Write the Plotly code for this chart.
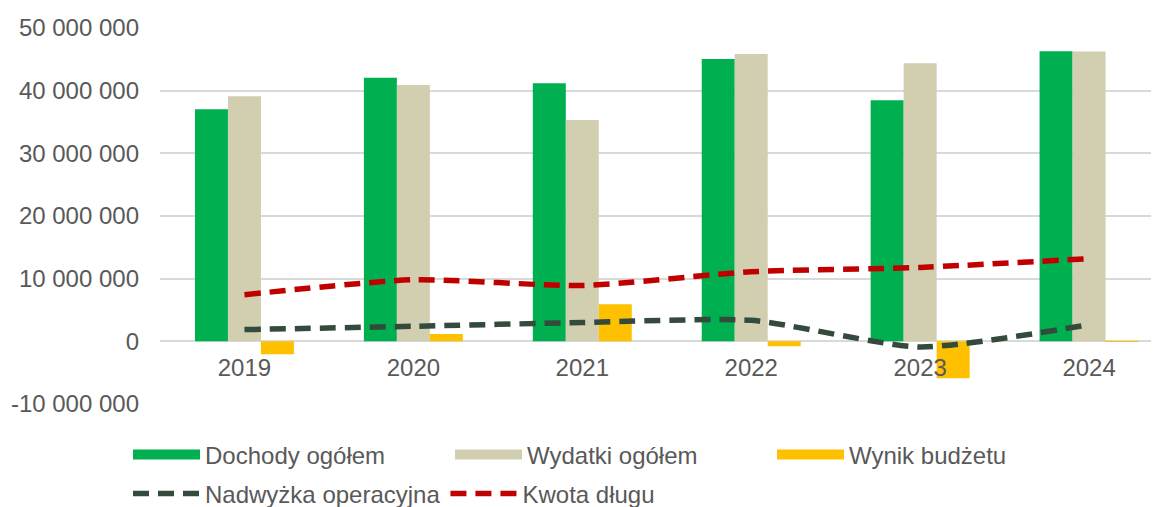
import plotly.graph_objects as go

years = ["2019", "2020", "2021", "2022", "2023", "2024"]
dochody = [37_040_000, 42_070_000, 41_200_000, 45_050_000, 38_470_000, 46_300_000]
wydatki = [39_100_000, 40_900_000, 35_300_000, 45_850_000, 44_370_000, 46_250_000]
wynik = [-2_060_000, 1_170_000, 5_900_000, -800_000, -5_900_000, 50_000]
nadwyzka = [1_870_000, 2_400_000, 3_000_000, 3_350_000, -900_000, 2_660_000]
kwota = [7_440_000, 9_830_000, 8_900_000, 11_100_000, 11_800_000, 13_200_000]

y_tickvals = [-10_000_000, 0, 10_000_000, 20_000_000, 30_000_000, 40_000_000, 50_000_000]
y_ticktext = ["-10 000 000", "0", "10 000 000", "20 000 000", "30 000 000", "40 000 000", "50 000 000"]

GREEN = "#00B050"
TAN = "#D2CEB0"
YELLOW = "#FFC000"
DARK = "#334A3C"
RED = "#C00000"
GRID = "#D9D9D9"
TXT = "#595959"
FONT = "Liberation Sans, Arial, sans-serif"

fig = go.Figure()
for name, vals, col in [("Dochody ogółem", dochody, GREEN),
                        ("Wydatki ogółem", wydatki, TAN),
                        ("Wynik budżetu", wynik, YELLOW)]:
    fig.add_trace(go.Bar(x=years, y=vals, name=name, marker_color=col,
                         marker_line_width=0, showlegend=False))
    fig.add_trace(go.Scatter(x=[None], y=[None], mode="lines", name=name,
                             line=dict(color=col, width=13), legend="legend"))

for name, vals, col in [("Nadwyżka operacyjna", nadwyzka, DARK),
                        ("Kwota długu", kwota, RED)]:
    fig.add_trace(go.Scatter(x=years, y=vals, name=name, mode="lines",
                             line=dict(color=col, width=5.5, dash="16px,9px", shape="spline",
                                       smoothing=0.6),
                             legend="legend2"))

# the page body adds an 8px margin, so the figure is 8px smaller on each axis
OFF = 8
W, H = 1159 - OFF, 507 - OFF
L, R = 160 - OFF, 0
T = 28 - OFF
PH = 376
B = H - T - PH

def legend_cfg(ycenter_page):
    yc = ycenter_page - OFF
    return dict(orientation="h", xanchor="left", yanchor="middle",
                x=(128 - OFF - L) / (W - L), y=(H - B - yc) / PH,
                font=dict(family=FONT, size=24, color=TXT),
                itemwidth=67, bgcolor="rgba(0,0,0,0)")

lg1 = legend_cfg(455)
lg1.update(entrywidth=240, entrywidthmode="pixels")
lg2 = legend_cfg(494)

fig.update_layout(
    width=W, height=H,
    margin=dict(l=L, r=R, t=T, b=B, autoexpand=False),
    paper_bgcolor="white", plot_bgcolor="white",
    barmode="group", bargap=0.414, bargroupgap=0,
    font=dict(family=FONT, size=24, color=TXT),
    legend=lg1, legend2=lg2,
    xaxis=dict(type="category", range=[-0.5, 5.414], anchor="free",
               position=1 / 6, showgrid=False, showline=False, ticks="",
               tickfont=dict(size=24, color=TXT), ticklabelstandoff=10),
    yaxis=dict(range=[-10_000_000, 50_000_000], tickvals=y_tickvals, ticktext=y_ticktext,
               showgrid=True, gridcolor=GRID, gridwidth=2,
               zeroline=True, zerolinecolor=GRID, zerolinewidth=2,
               ticks="", ticklabelstandoff=20, tickfont=dict(size=24, color=TXT)),
)

fig.write_html("out.html")
